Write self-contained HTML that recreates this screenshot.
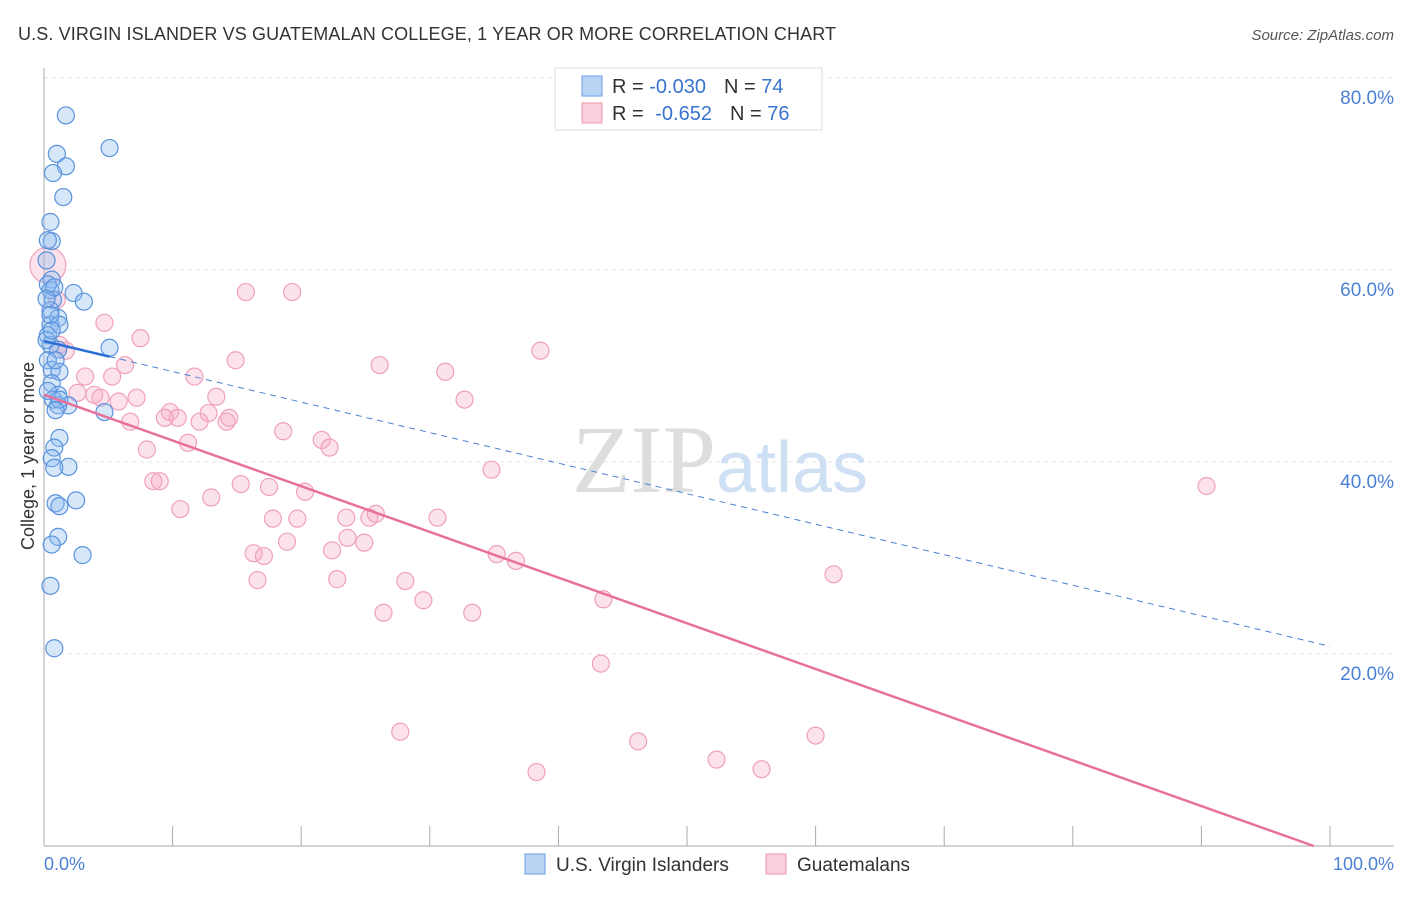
<!DOCTYPE html>
<html><head><meta charset="utf-8"><style>
body{margin:0;background:#fff;font-family:"Liberation Sans",sans-serif}
</style></head><body>
<svg width="1406" height="892" viewBox="0 0 1406 892">
<text x="18" y="40" font-size="18" fill="#333" textLength="818">U.S. VIRGIN ISLANDER VS GUATEMALAN COLLEGE, 1 YEAR OR MORE CORRELATION CHART</text>
<text x="1394" y="40" font-size="15" fill="#555" text-anchor="end" font-style="italic">Source: ZipAtlas.com</text>
<g id="grid"></g>
<text x="720" y="492" font-size="96" fill="#ddd" text-anchor="middle" font-family="Liberation Serif">ZIP<tspan fill="#cfe0f4" font-family="Liberation Sans" font-size="72">atlas</tspan></text>
<g id="pts"></g>
<g id="lines"></g>
<text transform="translate(34,456) rotate(-90)" font-size="18" fill="#333" text-anchor="middle">College, 1 year or more</text>
<text x="44" y="870" font-size="18" fill="#4a7fd4">0.0%</text>
<text x="1394" y="870" font-size="18" fill="#4a7fd4" text-anchor="end">100.0%</text>
<g>
<rect x="555" y="68" width="267" height="62" fill="#fff" stroke="#ddd"/>
<rect x="582" y="76" width="20" height="20" fill="#b9d3f5" stroke="#6a9ee6"/>
<rect x="582" y="103" width="20" height="20" fill="#fbcfdc" stroke="#ee9ab5"/>
<text x="612" y="93" font-size="20" fill="#333">R = <tspan fill="#3a74d0">-0.030</tspan><tspan dx="18">N = </tspan><tspan fill="#3a74d0">74</tspan></text>
<text x="612" y="120" font-size="20" fill="#333">R = <tspan dx="6" fill="#3a74d0">-0.652</tspan><tspan dx="18">N = </tspan><tspan fill="#3a74d0">76</tspan></text>
</g>
<g>
<rect x="525" y="854" width="20" height="20" fill="#b9d3f5" stroke="#6a9ee6"/>
<text x="556" y="871" font-size="19" fill="#333">U.S. Virgin Islanders</text>
<rect x="766" y="854" width="20" height="20" fill="#fbcfdc" stroke="#ee9ab5"/>
<text x="797" y="871" font-size="19" fill="#333">Guatemalans</text>
</g>
</svg>
<script>
const yTicks=[20,40,60,80];
const yTickLabels=["20.0%","40.0%","60.0%","80.0%"];
const blueX=[1.7,5.1,1.0,1.7,0.7,1.5,0.5,0.6,0.3,0.2,0.6,0.5,0.7,2.3,3.1,0.5,1.1,0.5,1.2,0.3,0.5,5.1,1.1,0.3,0.6,1.2,0.6,1.1,0.7,1.9,1.1,4.7,1.2,0.8,0.6,1.9,0.8,2.5,0.9,1.2,1.1,0.6,3.0,0.5,0.8,0.3,0.8,0.2,0.5,0.2,0.9,0.3,1.2,0.9,0.6];
const blueY=[76.1,72.7,72.1,70.8,70.1,67.6,65.0,63.0,63.1,61.0,59.0,57.9,56.9,57.6,56.7,55.8,55.0,54.3,54.3,53.2,52.2,51.9,51.7,50.6,49.6,49.4,48.2,47.0,46.5,45.9,45.9,45.2,42.5,41.5,40.4,39.5,39.4,36.0,35.7,35.4,32.2,31.4,30.3,27.1,20.6,58.5,58.2,57.0,55.3,52.7,50.6,47.4,46.5,45.4,53.7];
const pinkX=[0.3,1.0,15.7,19.3,4.7,7.5,38.6,1.7,1.2,14.9,26.1,6.3,31.2,5.3,11.7,3.2,2.6,3.9,4.4,7.2,5.8,13.4,32.7,9.8,9.4,10.4,12.8,14.4,14.2,12.1,6.7,18.6,21.6,22.2,11.2,8.0,34.8,8.5,9.0,15.3,17.5,20.3,13.0,10.6,90.4,17.8,19.7,23.5,25.3,25.8,30.6,23.6,24.9,18.9,22.4,16.3,17.1,35.2,36.7,61.4,16.6,22.8,28.1,29.5,43.5,26.4,33.3,43.3,27.7,46.2,60.0,52.3,55.8,38.3];
const pinkY=[60.5,56.9,57.7,57.7,54.5,52.9,51.6,51.6,52.2,50.6,50.1,50.1,49.4,48.9,48.9,48.9,47.2,47.0,46.7,46.7,46.3,46.8,46.5,45.2,44.6,44.6,45.1,44.6,44.2,44.2,44.2,43.2,42.3,41.5,42.0,41.3,39.2,38.0,38.0,37.7,37.4,36.9,36.3,35.1,37.5,34.1,34.1,34.2,34.2,34.6,34.2,32.1,31.6,31.7,30.8,30.5,30.2,30.4,29.7,28.3,27.7,27.8,27.6,25.6,25.7,24.3,24.3,19.0,11.9,10.9,11.5,9.0,8.0,7.7];
const blueTrend=[52.6,20.8];
const pinkTrend=[47.0,-0.6];
const X=v=>44+v*12.86, Y=v=>846-v*9.6;
const NS="http://www.w3.org/2000/svg";
function mk(t,a,p){const e=document.createElementNS(NS,t);for(const k in a)e.setAttribute(k,a[k]);p.appendChild(e);return e;}
const grid=document.getElementById('grid');
yTicks.forEach((t,i)=>{
 const l=mk('line',{x1:44,x2:1394,y1:Y(t),y2:Y(t),stroke:'#e6e6e6','stroke-dasharray':'4,4'},grid);
 
 
 const tx=mk('text',{x:1394,y:Y(t)+26,'font-size':19,fill:'#4a7fd4','text-anchor':'end'},grid);
 tx.textContent=yTickLabels[i];
 
 
});
const ax=mk('line',{x1:44,x2:44,y1:68,y2:846,stroke:'#aaa'},grid);


const bx=mk('line',{x1:44,x2:1394,y1:846,y2:846,stroke:'#aaa'},grid);


for(let i=1;i<=10;i++){const tk=mk('line',{x1:X(i*10),x2:X(i*10),y1:826,y2:846,stroke:'#aaa'},grid);
 
 }
const pts=document.getElementById('pts');
pinkX.forEach((x,i)=>{const c=mk('circle',{cx:X(x),cy:Y(pinkY[i]),r:i==0?18:8.5,fill:'rgba(246,170,195,0.33)',stroke:'#f0a0bb','stroke-width':1.2},pts);
 
 });
blueX.forEach((x,i)=>{const c=mk('circle',{cx:X(x),cy:Y(blueY[i]),r:8.5,fill:'rgba(140,185,240,0.35)',stroke:'#5a92dc','stroke-width':1.2},pts);
 
 });
const L=document.getElementById('lines');
const bt=v=>blueTrend[0]+(blueTrend[1]-blueTrend[0])*v/100;
let e=mk('line',{x1:X(5.1),y1:Y(bt(5.1)),x2:X(100),y2:Y(bt(100)),stroke:'#4a7fd4','stroke-dasharray':'6,5'},L);


e=mk('line',{x1:X(0),y1:Y(bt(0)),x2:X(5.1),y2:Y(bt(5.1)),stroke:'#2b6fd4','stroke-width':2.5},L);


const pend=pinkTrend[0]/(pinkTrend[0]-pinkTrend[1])*100;
e=mk('line',{x1:X(0),y1:Y(pinkTrend[0]),x2:X(pend),y2:Y(0),stroke:'#e8709a','stroke-width':2.5},L);


</script>
</body></html>
